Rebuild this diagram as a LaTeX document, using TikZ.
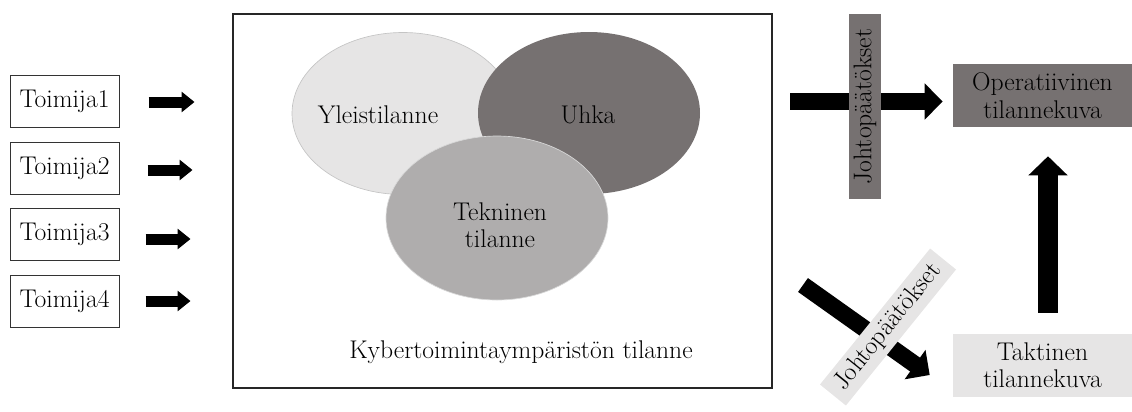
\documentclass[tikz,border=0pt]{standalone}
\usetikzlibrary{arrows.meta,calc,shapes.geometric}
\definecolor{darkgrey}{HTML}{767171}
\definecolor{midgrey}{HTML}{AFADAD}
\definecolor{lightgrey}{HTML}{E6E5E5}
\definecolor{rimgrey}{HTML}{C4C4C4}
\begin{document}
\begin{tikzpicture}[x=0.75pt,y=-0.75pt,
  font=\fontsize{19.2}{20.5}\selectfont,
  actor/.style={draw=black!80,line width=0.75pt,minimum width=81.75pt,minimum height=39pt,inner sep=0pt},
  bubble/.style={ellipse,inner sep=0pt,minimum width=166.5pt,minimum height=121.5pt},
  picbox/.style={minimum width=134.25pt,minimum height=47.25pt,inner sep=0pt,align=center},
  tag/.style={minimum width=138.75pt,minimum height=24pt,inner sep=0pt},
  smallarrow/.style={line width=8.25pt,-{Triangle[width=15pt,length=9.75pt]}},
  bigarrow/.style={line width=12.75pt,-{Triangle[width=26.25pt,length=13.5pt]}},
  uparrow/.style={line width=15pt,-{Triangle[width=28.5pt,length=14.25pt]}}]
\useasboundingbox (0,0) rectangle (1132,411);

% actors on the left
\node[actor] (t1) at (64.5,101) {Toimija1};
\node[actor] (t2) at (64.5,168) {Toimija2};
\node[actor] (t3) at (64.5,234.5) {Toimija3};
\node[actor] (t4) at (64.5,301) {Toimija4};

\draw[smallarrow] ($(t1.east)+(29,1)$) -- ($(t1.east)+(75,1)$);
\draw[smallarrow] ($(t2.east)+(28,2)$) -- ($(t2.east)+(73,2)$);
\draw[smallarrow] ($(t3.east)+(26,4.5)$) -- ($(t3.east)+(71,4.5)$);
\draw[smallarrow] ($(t4.east)+(26,0)$) -- ($(t4.east)+(71,0)$);

% cyber environment frame
\node[draw=black!85,line width=0.9pt,minimum width=404.25pt,minimum height=280.5pt,inner sep=0pt] (env) at (502.5,201) {};
\node (envlabel) at (521,352) {Kybertoimintaympäristön tilanne};

% overlapping situation bubbles
\node[bubble,fill=lightgrey,draw=rimgrey,line width=0.5pt] (yleis) at (403,113.5) {};
\node[bubble,fill=darkgrey] (uhka) at (589,113) {};
\node[bubble,fill=midgrey,draw=white!85!black,line width=0.5pt,minimum height=123pt] (tekn) at (497,218) {};
\node at (378,115) {Yleistilanne};
\node at (588,115) {Uhka};
\node[align=center] at (500,225) {Tekninen\\tilanne};

% situation pictures on the right
\node[picbox,fill=darkgrey] (oper) at (1042.5,95.5) {Operatiivinen\\tilannekuva};
\node[picbox,fill=lightgrey] (takt) at (1042.5,365.5) {Taktinen\\tilannekuva};

% conclusions towards the operational picture
\coordinate (opstart) at (790,101.5);
\draw[bigarrow] (opstart) -- ($(oper.west |- opstart)+(-10,0)$);
\node[tag,fill=darkgrey,rotate=90] (conc1) at (865,106.5) {Johtopäätökset};

% conclusions towards the tactical picture
\coordinate (tkstart) at (803,285);
\draw[bigarrow] (tkstart) -- ($(takt.west)+(-23,9.5)$);
\node[tag,fill=lightgrey,minimum width=131.25pt,minimum height=25pt,rotate=51] (conc2) at (888,327) {Johtopäätökset};

% tactical feeds operational
\draw[uparrow] ($(takt.north)+(5.5,-21)$) -- ($(oper.south)+(5.5,29)$);
\end{tikzpicture}
\end{document}
